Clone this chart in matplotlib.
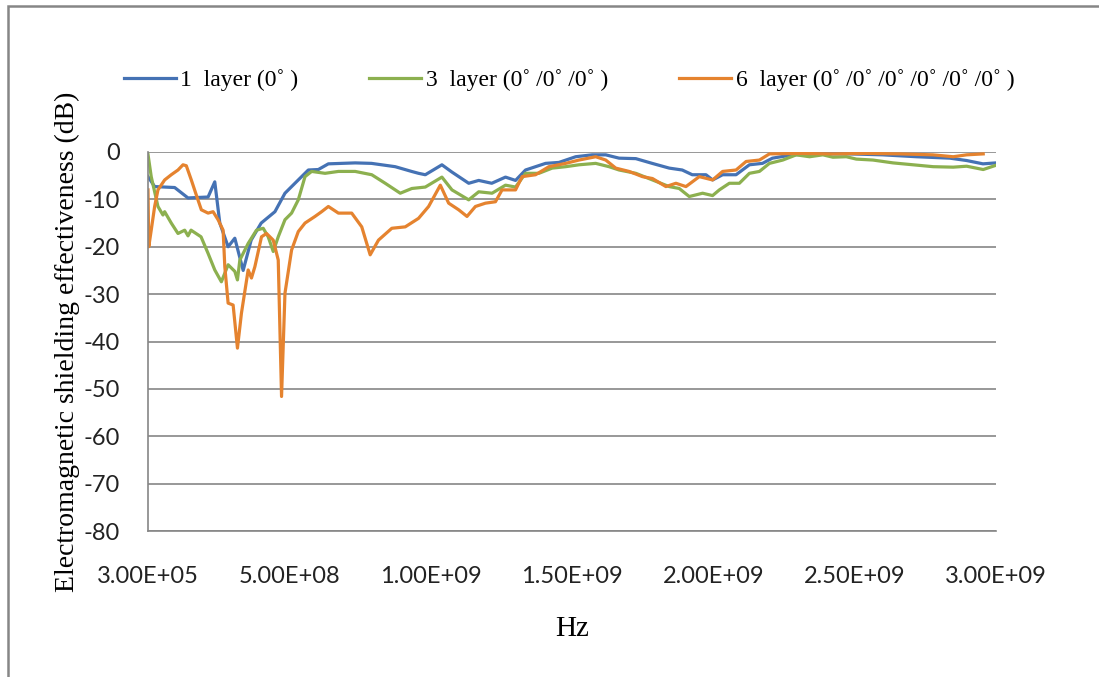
import matplotlib
matplotlib.use("Agg")
import matplotlib.pyplot as plt
from matplotlib.patches import Rectangle
from matplotlib.ticker import FuncFormatter

plt.rcParams["axes.unicode_minus"] = False

# frequency in MHz, shielding effectiveness in dB
freq_1 = [0.3, 23.8, 94.7, 141.8, 212.8, 236.5, 254.3, 283.7, 307.4, 336.9, 365.2, 400.7,
          449.3, 484.8, 531.9, 567.4, 602.8, 638.3, 733, 790.8, 874.8, 932.6, 957.4, 981.2,
          1040, 1074.5, 1134.8, 1170.2, 1216.3, 1264.9, 1300.4, 1335.8, 1406.7, 1453.9,
          1513.1, 1570.9, 1619.5, 1666.7, 1725.9, 1783.7, 1844, 1890.1, 1925.5, 1974.1,
          1997.5, 2033, 2080.5, 2127.7, 2173.8, 2209.2, 2280.1, 2364.2, 2482.3, 2599.3,
          2718.8, 2836.9, 2896.1, 2953.9, 3000]
se_1 = [-5.2, -7.3, -7.5, -9.7, -9.5, -6.3, -15, -20, -18.2, -25, -18.6, -15,
        -12.6, -8.7, -5.9, -3.8, -3.7, -2.5, -2.3, -2.4, -3.1, -4.1, -4.5, -4.8,
        -2.7, -4.2, -6.6, -6.0, -6.6, -5.3, -6.0, -3.8, -2.4, -2.2,
        -1.0, -0.6, -0.6, -1.3, -1.4, -2.4, -3.4, -3.8, -4.8, -4.8,
        -5.9, -4.8, -4.8, -2.7, -2.4, -1.3, -0.6, -0.4, -0.4, -0.6,
        -1.0, -1.3, -1.8, -2.5, -2.3]

freq_3 = [0.3, 11.7, 35.5, 53.2, 59.2, 82.6, 106.4, 130.1, 141.8, 152.5, 187.9, 212.8,
          236.5, 259.9, 283.7, 307.4, 316.7, 325.2, 354.6, 384, 407.8, 425.5, 443.3, 461,
          484.8, 508.2, 531.9, 555.7, 579.1, 626.6, 673.8, 733, 791.8, 839.4, 892.6, 933.7,
          981.2, 1040, 1075.5, 1134.8, 1170.2, 1217.4, 1264.9, 1300.4, 1335.8, 1383,
          1430.1, 1477.7, 1524.8, 1584, 1631.2, 1666.7, 1725.9, 1784.8, 1844, 1879.4,
          1914.9, 1962.1, 1997.5, 2021.3, 2056.7, 2092.2, 2127.7, 2163.1, 2198.6, 2245.7,
          2293.3, 2340.4, 2387.6, 2423, 2470.6, 2506, 2564.9, 2635.8, 2706.7, 2777.7,
          2848.6, 2896.1, 2954.8, 3000]
se_3 = [-0.5, -5.2, -11.5, -13.3, -12.6, -15, -17.2, -16.5, -17.7, -16.5, -17.9, -21.4,
        -24.9, -27.4, -23.8, -25.2, -27, -22.8, -19.3, -16.5, -16.1, -17.9, -21, -17.9,
        -14.3, -12.9, -10.1, -5.2, -4.1, -4.5, -4.1, -4.1, -4.8, -6.6, -8.7, -7.7,
        -7.4, -5.3, -8, -10.1, -8.4, -8.7, -7, -7.4, -4.5, -4.5,
        -3.4, -3.1, -2.7, -2.4, -3.1, -3.8, -4.5, -5.9, -7.3, -7.7,
        -9.4, -8.7, -9.2, -8.0, -6.6, -6.6, -4.5, -4.1, -2.4, -1.7,
        -0.6, -1.0, -0.6, -1.1, -1.0, -1.5, -1.7, -2.3, -2.7, -3.1,
        -3.2, -3.0, -3.7, -2.8]

freq_6 = [0.3, 3, 11.7, 23.8, 35.5, 59.2, 82.6, 106.4, 124.1, 135.8, 153.5, 171.3,
          189, 212.8, 230.5, 248.2, 266, 272, 283.7, 301.4, 316.7, 330.9, 354.6, 366.3,
          378.4, 401.8, 419.5, 443.3, 461, 472.7, 484.8, 508.2, 531.9, 555.7, 591.1,
          614.5, 638.3, 673.8, 720.9, 756.4, 786.2, 815.6, 862.8, 910.3, 957.4, 992.9,
          1034.4, 1063.8, 1099.3, 1128.7, 1158.5, 1194, 1229.4, 1252.7, 1300.4, 1323.8,
          1371.3, 1418.4, 1477.7, 1524.8, 1584, 1619.5, 1654.9, 1702.1, 1749.3, 1784.8,
          1832.3, 1867.7, 1903.2, 1950.4, 1997.5, 2033, 2080.5, 2116, 2163.1, 2198.6,
          2305, 2422.3, 2541.5, 2659.6, 2776.6, 2848.6, 2896.1, 2954.8]
se_6 = [-8, -20, -16.5, -11.5, -8, -5.9, -4.8, -3.8, -2.7, -2.9, -5.9, -9.1,
        -12.2, -12.9, -12.6, -14.3, -16.5, -24.2, -31.9, -32.3, -41.4, -34, -24.9, -26.6,
        -24.2, -17.9, -17.2, -18.6, -22.8, -51.6, -29.8, -20.7, -16.8, -15, -13.6,
        -12.6, -11.5, -12.9, -12.9, -15.8, -21.7, -18.6, -16.1, -15.8, -14, -11.5,
        -7, -10.8, -12.2, -13.6, -11.5, -10.8, -10.5, -8, -8, -5.2,
        -4.8, -3.1, -2.4, -1.7, -1.0, -1.7, -3.4, -4.1, -5.2, -5.6,
        -7.3, -6.6, -7.3, -5.2, -5.9, -4.1, -3.8, -2.0, -1.7, -0.4,
        -0.3, -0.4, -0.3, -0.4, -0.6, -1.0, -0.6, -0.4]

labels = ["1  layer (0˚ )", "3  layer (0˚ /0˚ /0˚ )",
          "6  layer (0˚ /0˚ /0˚ /0˚ /0˚ /0˚ )"]
colors = ["#4572b4", "#8cb04f", "#e5832f"]
x_ticks = [3e5, 5e8, 1e9, 1.5e9, 2e9, 2.5e9, 3e9]
y_ticks = [0, -10, -20, -30, -40, -50, -60, -70, -80]

W, H = 1099, 677
fig = plt.figure(figsize=(W / 100, H / 100), dpi=100)
fig.patch.set_facecolor("white")

# outer chart frame (only top and left edges fall inside the image)
fig.patches.append(Rectangle((8 / W, -0.1), 1.2, 1.1 - 6 / H,
                             transform=fig.transFigure, fill=False,
                             edgecolor="#868686", linewidth=1.8))

ax = fig.add_axes([148 / W, 1 - 531 / H, 848 / W, 379 / H])

series = [(freq_1, se_1), (freq_3, se_3), (freq_6, se_6)]
for (f, s), lab, c in zip(series, labels, colors):
    ax.plot([v * 1e6 for v in f], s, color=c, linewidth=2.3, label=lab)

ax.set_xlim(3e5, 3e9)
ax.set_ylim(-80, 0)
ax.set_xticks(x_ticks)
ax.set_yticks(y_ticks)
ax.xaxis.set_major_formatter(FuncFormatter(lambda v, p: "%.2E" % v))
ax.yaxis.grid(True, color="#868686", linewidth=1.2)
ax.set_axisbelow(True)
for side in ["top", "right"]:
    ax.spines[side].set_visible(False)
for side in ["left", "bottom"]:
    ax.spines[side].set_color("#868686")
    ax.spines[side].set_linewidth(1.2)
ax.tick_params(length=0, labelsize=17)
ax.tick_params(axis="y", pad=20)
ax.tick_params(axis="x", pad=25)
for t in ax.get_xticklabels() + ax.get_yticklabels():
    t.set_fontfamily("Lato")
    t.set_color("#222222")

ax.set_ylabel("Electromagnetic shielding effectiveness (dB)",
              family="Liberation Serif", fontsize=20, labelpad=3)
ax.set_xlabel("Hz", family="Liberation Serif", fontsize=21, labelpad=21)

fig.legend(loc="center", bbox_to_anchor=(569 / W, 1 - 80 / H), ncol=3,
           frameon=False, prop={"family": "Liberation Serif", "size": 17},
           handlelength=2.2, handletextpad=0.2, columnspacing=3.0)

fig.savefig("out.png", dpi=100)
